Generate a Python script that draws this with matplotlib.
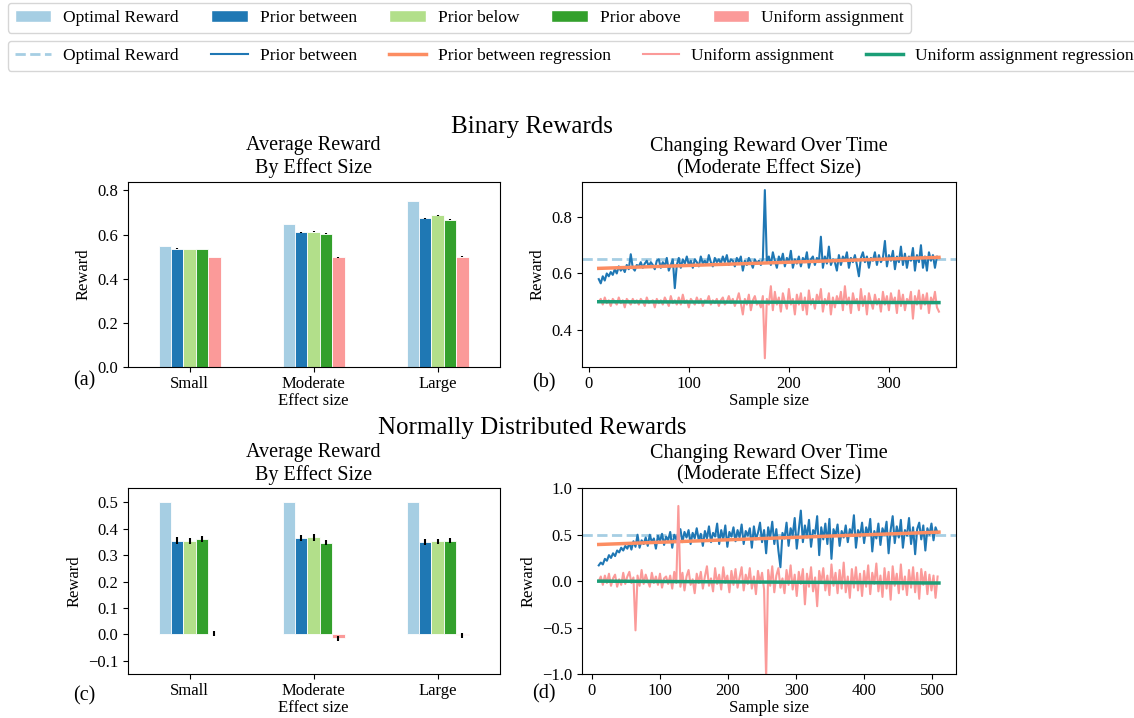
import numpy as np
import matplotlib
matplotlib.use("Agg")
import matplotlib.pyplot as plt
from matplotlib.patches import Patch
from matplotlib.lines import Line2D

plt.rcParams["font.family"] = ["Liberation Serif", "DejaVu Serif"]
plt.rcParams["font.size"] = 12

# ---- data ----
EFFECTS = ["Small", "Moderate", "Large"]
BAR_NAMES = ["Optimal Reward", "Prior between", "Prior below", "Prior above", "Uniform assignment"]
BAR_COLORS = ["#a6cee3", "#1f78b4", "#b2df8a", "#33a02c", "#fb9a99"]

binary_means = [
    [0.550, 0.650, 0.750],   # optimal
    [0.535, 0.610, 0.673],   # prior between
    [0.534, 0.612, 0.687],   # prior below
    [0.534, 0.603, 0.668],   # prior above
    [0.498, 0.497, 0.499],   # uniform
]
binary_err = [
    [0.000, 0.000, 0.000],
    [0.002, 0.002, 0.002],
    [0.002, 0.002, 0.003],
    [0.002, 0.002, 0.002],
    [0.002, 0.002, 0.003],
]
normal_means = [
    [0.500, 0.500, 0.500],
    [0.355, 0.364, 0.350],
    [0.353, 0.367, 0.352],
    [0.362, 0.347, 0.355],
    [0.003, -0.015, -0.004],
]
normal_err = [
    [0.000, 0.000, 0.000],
    [0.012, 0.011, 0.010],
    [0.011, 0.012, 0.010],
    [0.011, 0.010, 0.009],
    [0.008, 0.009, 0.008],
]

# binary rewards over time (sample sizes 10, 12, ..., 350)
binary_x = np.arange(10, 351, 2)
binary_between = [
    0.58, 0.565, 0.59, 0.575, 0.60, 0.59, 0.605, 0.595, 0.615, 0.60, 0.625, 0.61, 0.62, 0.605, 0.63, 0.615, 0.668, 0.62, 0.61, 0.63,
    0.625, 0.64, 0.62, 0.635, 0.645, 0.625, 0.64, 0.63, 0.615, 0.645, 0.65, 0.62, 0.64, 0.625, 0.655, 0.61, 0.63, 0.65, 0.548, 0.63,
    0.655, 0.62, 0.65, 0.635, 0.66, 0.63, 0.645, 0.62, 0.65, 0.64, 0.625, 0.66, 0.635, 0.645, 0.63, 0.665, 0.64, 0.625, 0.655, 0.64,
    0.65, 0.635, 0.66, 0.64, 0.665, 0.63, 0.65, 0.645, 0.625, 0.655, 0.64, 0.66, 0.61, 0.645, 0.63, 0.655, 0.64, 0.62, 0.65, 0.635,
    0.645, 0.63, 0.65, 0.895, 0.64, 0.66, 0.63, 0.675, 0.645, 0.62, 0.66, 0.64, 0.67, 0.625, 0.655, 0.64, 0.68, 0.62, 0.65, 0.635,
    0.66, 0.625, 0.655, 0.64, 0.675, 0.62, 0.65, 0.66, 0.63, 0.655, 0.64, 0.73, 0.62, 0.66, 0.635, 0.695, 0.63, 0.65, 0.64, 0.61,
    0.665, 0.63, 0.66, 0.645, 0.675, 0.62, 0.655, 0.64, 0.665, 0.63, 0.59, 0.655, 0.675, 0.64, 0.66, 0.62, 0.655, 0.645, 0.675, 0.63,
    0.665, 0.64, 0.655, 0.715, 0.625, 0.665, 0.645, 0.68, 0.615, 0.66, 0.64, 0.695, 0.63, 0.67, 0.62, 0.66, 0.645, 0.69, 0.61, 0.665,
    0.64, 0.70, 0.62, 0.66, 0.61, 0.675, 0.645, 0.665, 0.62, 0.66, 0.655,
]
binary_uniform = [
    0.50, 0.51, 0.49, 0.515, 0.495, 0.505, 0.485, 0.51, 0.50, 0.49, 0.515, 0.495, 0.505, 0.48, 0.51, 0.50, 0.49, 0.51, 0.495, 0.505,
    0.49, 0.51, 0.50, 0.485, 0.515, 0.495, 0.50, 0.505, 0.48, 0.51, 0.495, 0.505, 0.49, 0.515, 0.50, 0.485, 0.52, 0.495, 0.505, 0.49,
    0.515, 0.49, 0.525, 0.495, 0.505, 0.48, 0.51, 0.50, 0.49, 0.515, 0.495, 0.51, 0.485, 0.505, 0.50, 0.52, 0.49, 0.505, 0.495, 0.51,
    0.485, 0.505, 0.515, 0.49, 0.50, 0.52, 0.495, 0.51, 0.485, 0.505, 0.53, 0.495, 0.455, 0.51, 0.49, 0.525, 0.47, 0.505, 0.52, 0.49,
    0.50, 0.48, 0.52, 0.30, 0.51, 0.49, 0.555, 0.47, 0.535, 0.49, 0.515, 0.465, 0.53, 0.50, 0.475, 0.545, 0.49, 0.51, 0.455, 0.525,
    0.49, 0.53, 0.47, 0.515, 0.455, 0.54, 0.49, 0.51, 0.475, 0.525, 0.50, 0.545, 0.465, 0.51, 0.49, 0.53, 0.455, 0.515, 0.48, 0.52,
    0.495, 0.535, 0.47, 0.555, 0.49, 0.515, 0.46, 0.53, 0.495, 0.51, 0.47, 0.545, 0.485, 0.52, 0.455, 0.53, 0.50, 0.475, 0.525, 0.49,
    0.51, 0.465, 0.535, 0.49, 0.52, 0.47, 0.53, 0.495, 0.515, 0.46, 0.54, 0.485, 0.525, 0.47, 0.51, 0.495, 0.535, 0.44, 0.52, 0.49,
    0.54, 0.475, 0.525, 0.49, 0.53, 0.46, 0.515, 0.495, 0.535, 0.48, 0.465,
]
binary_optimal = 0.65
binary_reg_x = [10, 350]
binary_between_reg = [0.618, 0.657]
binary_uniform_reg = [0.500, 0.497]

# normal rewards over time (sample sizes 10, 13, ..., 508)
normal_x = np.arange(10, 511, 3)
normal_between = [
    0.17, 0.20, 0.18, 0.24, 0.22, 0.28, 0.25, 0.30, 0.27, 0.33,
    0.31, 0.36, 0.33, 0.38, 0.35, 0.41, 0.34, 0.43, 0.37, 0.50,
    0.36, 0.44, 0.40, 0.47, 0.38, 0.50, 0.42, 0.46, 0.35, 0.49,
    0.43, 0.51, 0.39, 0.48, 0.44, 0.53, 0.36, 0.50, 0.45, 0.52,
    0.56, 0.42, 0.53, 0.47, 0.55, 0.40, 0.52, 0.46, 0.57, 0.44,
    0.51, 0.38, 0.54, 0.46, 0.59, 0.42, 0.52, 0.48, 0.62, 0.40,
    0.55, 0.45, 0.60, 0.37, 0.53, 0.48, 0.58, 0.43, 0.55, 0.47,
    0.61, 0.40, 0.54, 0.49, 0.57, 0.36, 0.59, 0.45, 0.52, 0.63,
    0.42, 0.55, 0.30, 0.58, 0.47, 0.64, 0.40, 0.56, 0.33, 0.15,
    0.52, 0.46, 0.63, 0.38, 0.57, 0.49, 0.68, 0.35, 0.55, 0.76,
    0.42, 0.60, 0.47, 0.66, 0.37, 0.55, 0.51, 0.70, 0.28, 0.58,
    0.45, 0.62, 0.40, 0.67, 0.24, 0.56, 0.49, 0.61, 0.38, 0.54,
    0.47, 0.60, 0.42, 0.56, 0.50, 0.71, 0.36, 0.55, 0.48, 0.63,
    0.41, 0.58, 0.50, 0.67, 0.32, 0.54, 0.46, 0.62, 0.39, 0.57,
    0.50, 0.64, 0.30, 0.55, 0.70, 0.41, 0.59, 0.47, 0.66, 0.36,
    0.55, 0.49, 0.68, 0.40, 0.58, 0.29, 0.56, 0.63, 0.45, 0.60,
    0.33, 0.57, 0.50, 0.62, 0.44, 0.58, 0.52,
]
normal_uniform = [
    0.00, 0.05, -0.04, 0.06, -0.02, 0.08, -0.05, 0.03, 0.07, -0.06,
    0.02, -0.04, 0.09, -0.03, 0.05, 0.10, -0.02, 0.04, -0.53, 0.06,
    -0.05, 0.12, -0.03, 0.07, 0.00, -0.06, 0.09, -0.02, 0.05, -0.04,
    0.08, -0.07, 0.03, 0.05, -0.03, 0.06, -0.08, 0.10, -0.02, 0.81,
    -0.06, 0.09, -0.10, 0.05, 0.12, -0.04, 0.02, -0.13, 0.08, -0.02,
    0.10, -0.08, 0.05, 0.16, -0.05, 0.03, -0.11, 0.14, -0.03, 0.07,
    -0.09, 0.15, -0.02, 0.06, -0.12, 0.11, -0.04, 0.13, -0.07, 0.04,
    0.15, -0.10, 0.07, -0.03, 0.14, -0.08, 0.05, -0.14, 0.11, -0.02,
    0.09, -0.09, -1.05, 0.12, -0.05, 0.16, -0.12, 0.06, 0.14, -0.07,
    0.03, -0.13, 0.12, -0.04, 0.17, -0.09, 0.07, -0.16, 0.10, -0.03,
    0.13, -0.25, 0.08, -0.06, 0.15, -0.11, 0.04, -0.27, 0.11, -0.02,
    0.14, -0.10, 0.06, -0.15, 0.18, -0.05, 0.09, -0.13, 0.12, -0.08,
    0.20, -0.12, 0.05, -0.18, 0.13, -0.07, 0.15, -0.10, 0.08, -0.16,
    0.11, -0.06, 0.17, -0.14, 0.09, -0.03, 0.19, -0.11, 0.06, -0.17,
    0.14, -0.08, 0.10, -0.20, 0.16, -0.05, 0.08, -0.13, 0.18, -0.09,
    0.05, -0.15, 0.12, -0.07, 0.15, -0.12, 0.09, -0.19, 0.13, -0.04,
    0.10, -0.14, 0.07, -0.10, 0.06, -0.18, 0.05,
]
normal_optimal = 0.5
normal_reg_x = [10, 510]
normal_between_reg = [0.395, 0.528]
normal_uniform_reg = [0.000, -0.020]

OPT_COLOR = "#a6cee3"
BETWEEN_COLOR = "#1f77b4"
BETWEEN_REG_COLOR = "#fc8d62"
UNIFORM_COLOR = "#fb9a99"
UNIFORM_REG_COLOR = "#1b9e77"


def bar_panel(ax, means, errs, ylim, yticks):
    x = np.arange(len(EFFECTS))
    width = 0.1
    for i, (m, e) in enumerate(zip(means, errs)):
        ax.bar(x + (i - 2) * width, m, width, yerr=e, color=BAR_COLORS[i],
               edgecolor="white", linewidth=0.6,
               error_kw=dict(ecolor="black", elinewidth=1.5, capsize=0))
    ax.set_xticks(x)
    ax.set_xticklabels(EFFECTS)
    ax.set_xlim(-0.5, 2.5)
    ax.set_ylim(*ylim)
    ax.set_yticks(yticks)
    ax.set_xlabel("Effect size", labelpad=1)
    ax.set_ylabel("Reward")
    ax.set_title("Average Reward\nBy Effect Size", fontsize=14.5)


def line_panel(ax, x, between, uniform, optimal, reg_x, between_reg, uniform_reg):
    ax.axhline(optimal, color=OPT_COLOR, linestyle="--", linewidth=2)
    ax.plot(x, between, color=BETWEEN_COLOR, linewidth=1.5)
    ax.plot(reg_x, between_reg, color=BETWEEN_REG_COLOR, linewidth=2.5)
    ax.plot(x, uniform, color=UNIFORM_COLOR, linewidth=1.5)
    ax.plot(reg_x, uniform_reg, color=UNIFORM_REG_COLOR, linewidth=2.5)
    ax.set_xlabel("Sample size", labelpad=1)
    ax.set_ylabel("Reward")
    ax.set_title("Changing Reward Over Time\n(Moderate Effect Size)", fontsize=14.5)


fig = plt.figure(figsize=(11.34, 7.18), dpi=100)
ax_a = fig.add_axes([0.1126, 0.4893, 0.328, 0.2577])
ax_b = fig.add_axes([0.5130, 0.4893, 0.330, 0.2577])
ax_c = fig.add_axes([0.1126, 0.0613, 0.328, 0.2586])
ax_d = fig.add_axes([0.5130, 0.0613, 0.330, 0.2586])

bar_panel(ax_a, binary_means, binary_err, (0, 0.84), [0, 0.2, 0.4, 0.6, 0.8])
bar_panel(ax_c, normal_means, normal_err, (-0.15, 0.553),
          [-0.1, 0.0, 0.1, 0.2, 0.3, 0.4, 0.5])

line_panel(ax_b, binary_x, binary_between, binary_uniform, binary_optimal,
           binary_reg_x, binary_between_reg, binary_uniform_reg)
ax_b.set_yticks([0.4, 0.6, 0.8])
line_panel(ax_d, normal_x, normal_between, normal_uniform, normal_optimal,
           normal_reg_x, normal_between_reg, normal_uniform_reg)
ax_d.set_ylim(-1, 1)

for ax in (ax_a, ax_b, ax_c, ax_d):
    ax.tick_params(axis="x", pad=3)

fig.text(0.469, 0.823, "Binary Rewards", ha="center", va="center", fontsize=18)
fig.text(0.469, 0.404, "Normally Distributed Rewards", ha="center", va="center", fontsize=18)

for label, (px, py) in zip(["(a)", "(b)", "(c)", "(d)"],
                           [(0.0745, 0.470), (0.480, 0.467), (0.0745, 0.031), (0.480, 0.034)]):
    fig.text(px, py, label, ha="center", va="center", fontsize=14.5)

bar_handles = [Patch(facecolor=c, edgecolor="white") for c in BAR_COLORS]
fig.legend(bar_handles, BAR_NAMES, loc="upper left", bbox_to_anchor=(0.007, 0.996),
           ncol=5, fontsize=12.5, handlelength=2.1, handletextpad=0.7,
           columnspacing=1.85, borderaxespad=0)
line_handles = [
    Line2D([], [], color=OPT_COLOR, linestyle="--", linewidth=2),
    Line2D([], [], color=BETWEEN_COLOR, linewidth=1.5),
    Line2D([], [], color=BETWEEN_REG_COLOR, linewidth=2.5),
    Line2D([], [], color=UNIFORM_COLOR, linewidth=1.5),
    Line2D([], [], color=UNIFORM_REG_COLOR, linewidth=2.5),
]
line_names = ["Optimal Reward", "Prior between", "Prior between regression",
              "Uniform assignment", "Uniform assignment regression"]
fig.legend(line_handles, line_names, loc="upper left", bbox_to_anchor=(0.007, 0.943),
           ncol=5, fontsize=12.5, handlelength=2.1, handletextpad=0.7,
           columnspacing=1.85, borderaxespad=0)

fig.savefig("out.png", dpi=100)
